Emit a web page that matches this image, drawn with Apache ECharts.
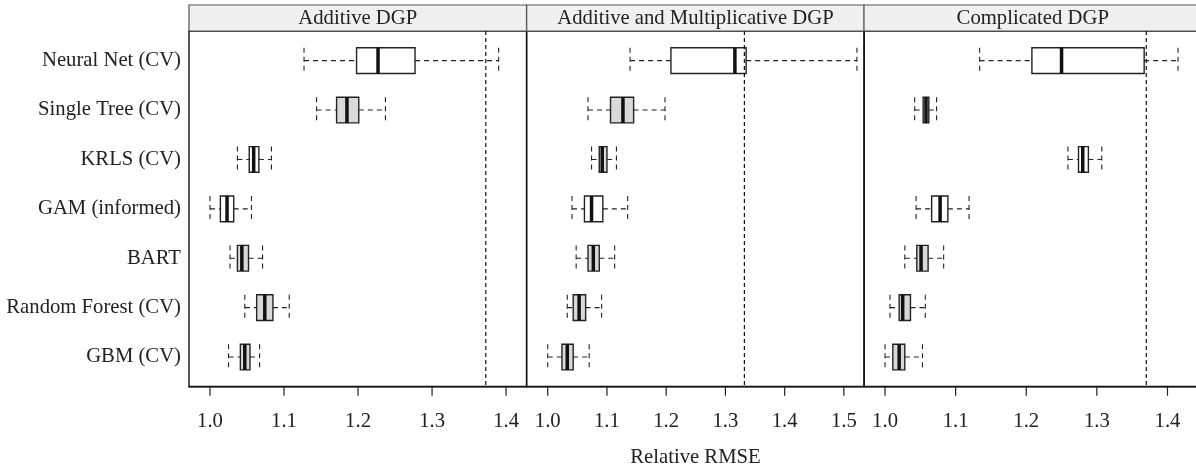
<!DOCTYPE html>
<html>
<head>
<meta charset="utf-8">
<style>
  html, body { margin: 0; padding: 0; background: #fff; }
  #chart { width: 1196px; height: 466px; }
</style>
<script src="https://cdn.jsdelivr.net/npm/echarts@6/dist/echarts.min.js"></script>
</head>
<body>
<div id="chart"></div>
<script>
// methods, top to bottom
const categories = [
  "Neural Net (CV)", "Single Tree (CV)", "KRLS (CV)", "GAM (informed)",
  "BART", "Random Forest (CV)", "GBM (CV)"
];
const panelTitles = ["Additive DGP", "Additive and Multiplicative DGP", "Complicated DGP"];

// [whisker low, q1, median, q3, whisker high]
const additiveStats = [
  [1.127, 1.198, 1.227, 1.277, 1.390],
  [1.144, 1.171, 1.185, 1.201, 1.237],
  [1.037, 1.053, 1.059, 1.066, 1.083],
  [1.000, 1.014, 1.023, 1.032, 1.056],
  [1.027, 1.037, 1.043, 1.052, 1.071],
  [1.047, 1.063, 1.074, 1.085, 1.107],
  [1.025, 1.041, 1.047, 1.054, 1.067]
];
const multStats = [
  [1.139, 1.208, 1.316, 1.335, 1.522],
  [1.068, 1.106, 1.127, 1.145, 1.198],
  [1.074, 1.087, 1.092, 1.100, 1.116],
  [1.041, 1.062, 1.074, 1.093, 1.135],
  [1.048, 1.068, 1.077, 1.087, 1.113],
  [1.033, 1.043, 1.053, 1.064, 1.091],
  [1.000, 1.024, 1.033, 1.043, 1.070]
];
const complicatedStats = [
  [1.134, 1.208, 1.250, 1.367, 1.415],
  [1.042, 1.054, 1.058, 1.062, 1.073],
  [1.259, 1.274, 1.280, 1.288, 1.307],
  [1.044, 1.066, 1.078, 1.089, 1.119],
  [1.028, 1.045, 1.051, 1.061, 1.083],
  [1.007, 1.020, 1.025, 1.036, 1.057],
  [1.000, 1.011, 1.020, 1.028, 1.053]
];
// 1 = grey box, 0 = white box
const additiveFill = [0, 1, 0, 0, 1, 1, 1];
const multFill = [0, 1, 1, 0, 1, 1, 1];
const complicatedFill = [0, 1, 0, 0, 1, 1, 1];

const refLines = [1.3726, 1.332, 1.370];
const xTicks = [
  [1.0, 1.1, 1.2, 1.3, 1.4],
  [1.0, 1.1, 1.2, 1.3, 1.4, 1.5],
  [1.0, 1.1, 1.2, 1.3, 1.4]
];
const xRanges = [[0.9716, 1.4276], [0.9645, 1.5343], [0.9702, 1.4482]];
const rowIndex = [1, 2, 3, 4, 5, 6, 7];

const allStats = [additiveStats, multStats, complicatedStats];
const allFill = [additiveFill, multFill, complicatedFill];

const font = "Liberation Serif";
const fontSize = 20.7;
const panelLeft = [189, 526.7, 864];
const panelWidth = 337.5;
const plotTop = 31;
const plotHeight = 355.7;
const stripTop = 5;
const yMin = 0.4, yMax = 7.6;

function renderBox(params, api) {
  const y = api.value(0);
  const lo = api.coord([api.value(1), y]);
  const q1 = api.coord([api.value(2), y]);
  const md = api.coord([api.value(3), y]);
  const q3 = api.coord([api.value(4), y]);
  const hi = api.coord([api.value(5), y]);
  const h = api.size([0, 0.52])[1];
  const cy = lo[1];
  const dash = { stroke: "#222", lineWidth: 1.1, lineDash: [5, 4] };
  return {
    type: "group",
    children: [
      { type: "line", shape: { x1: lo[0], y1: cy, x2: q1[0], y2: cy }, style: dash },
      { type: "line", shape: { x1: q3[0], y1: cy, x2: hi[0], y2: cy }, style: dash },
      { type: "line", shape: { x1: lo[0], y1: cy - h / 2, x2: lo[0], y2: cy + h / 2 }, style: dash },
      { type: "line", shape: { x1: hi[0], y1: cy - h / 2, x2: hi[0], y2: cy + h / 2 }, style: dash },
      {
        type: "rect",
        shape: { x: q1[0], y: cy - h / 2, width: q3[0] - q1[0], height: h },
        style: { fill: api.value(6) ? "#d9d9d9" : "#fff", stroke: "#222", lineWidth: 1.4 }
      },
      {
        type: "line",
        shape: { x1: md[0], y1: cy - h / 2, x2: md[0], y2: cy + h / 2 },
        style: { stroke: "#111", lineWidth: 3.5 }
      }
    ]
  };
}

const grids = [], xAxes = [], yAxes = [], series = [], graphics = [];
for (let p = 0; p < 3; p++) {
  grids.push({
    left: panelLeft[p], top: plotTop, width: panelWidth, height: plotHeight,
    outerBoundsMode: "none",
    show: true, borderColor: "#111", borderWidth: 1.4
  });
  xAxes.push({
    type: "value", gridIndex: p, min: xRanges[p][0], max: xRanges[p][1],
    splitLine: { show: false },
    axisLine: { show: true, lineStyle: { color: "#111", width: 1.4 } },
    axisTick: { show: false },
    axisLabel: {
      customValues: xTicks[p], margin: 24, color: "#222",
      fontFamily: font, fontSize: fontSize, formatter: (v) => v.toFixed(1)
    },
    name: p === 1 ? "Relative RMSE" : "",
    nameLocation: "middle", nameGap: 60,
    nameTextStyle: { fontFamily: font, fontSize: fontSize, color: "#222" }
  });
  yAxes.push({
    type: "value", gridIndex: p, min: yMin, max: yMax, inverse: true,
    splitLine: { show: false },
    axisLine: { show: false },
    axisTick: { show: false },
    axisLabel: {
      show: p === 0, customValues: rowIndex, margin: 8, color: "#222",
      fontFamily: font, fontSize: fontSize,
      formatter: (v) => categories[Math.round(v) - 1]
    }
  });
  series.push({
    type: "custom", xAxisIndex: p, yAxisIndex: p,
    renderItem: renderBox, clip: true, silent: true,
    encode: { x: [1, 2, 3, 4, 5], y: 0 },
    data: allStats[p].map((s, i) => [rowIndex[i]].concat(s, [allFill[p][i]]))
  });
  series.push({
    type: "line", xAxisIndex: p, yAxisIndex: p, symbol: "none", silent: true,
    lineStyle: { color: "#111", width: 1.2, type: [4, 3] }, z: 5,
    data: [[refLines[p], yMin], [refLines[p], yMax]]
  });
  // strip above each panel
  graphics.push({
    type: "rect",
    shape: { x: panelLeft[p], y: stripTop, width: panelWidth, height: plotTop - stripTop },
    style: { fill: "#f0f0f0", stroke: "#555", lineWidth: 1.2 }
  });
  graphics.push({
    type: "text",
    x: panelLeft[p] + panelWidth / 2, y: (stripTop + plotTop) / 2 + 1,
    style: {
      text: panelTitles[p], fill: "#222", font: fontSize + "px '" + font + "'",
      align: "center", verticalAlign: "middle"
    }
  });
}

const chart = echarts.init(document.getElementById("chart"));
chart.setOption({
  animation: false,
  grid: grids,
  xAxis: xAxes,
  yAxis: yAxes,
  series: series
});

// tick marks: positions come from each panel's x scale
for (let p = 0; p < 3; p++) {
  xTicks[p].forEach((t) => {
    const pt = chart.convertToPixel({ gridIndex: p }, [t, yMax]);
    graphics.push({
      type: "line", z: 100,
      shape: { x1: pt[0], y1: pt[1], x2: pt[0], y2: pt[1] + 9 },
      style: { stroke: "#222", lineWidth: 1.2 }
    });
  });
}
chart.setOption({ graphic: graphics });
</script>
</body>
</html>
